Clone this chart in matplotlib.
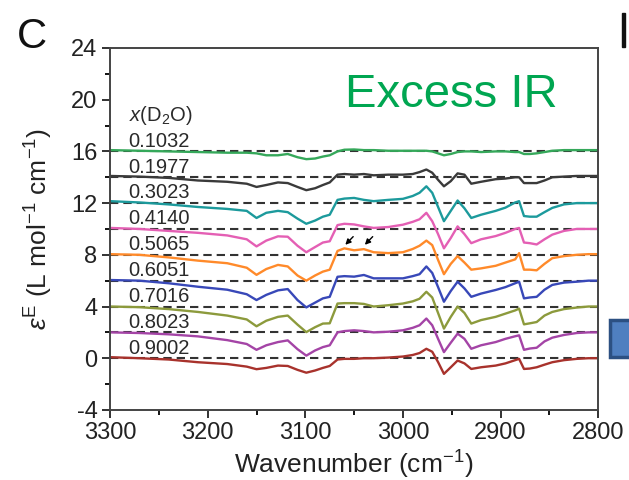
import numpy as np
import matplotlib
matplotlib.use("Agg")
import matplotlib.pyplot as plt
from matplotlib.ticker import MultipleLocator
from matplotlib.patches import Rectangle

plt.rcParams['font.family'] = ['Liberation Sans', 'DejaVu Sans']
plt.rcParams['mathtext.fontset'] = 'custom'
plt.rcParams['mathtext.rm'] = 'Liberation Sans'
plt.rcParams['mathtext.it'] = 'Liberation Sans:italic'
plt.rcParams['axes.unicode_minus'] = False

# wavenumber grid (cm^-1)
wn = [3300, 3270, 3240, 3210, 3180, 3160, 3150, 3140, 3128, 3118, 3108, 3099,
      3090, 3082, 3075, 3067, 3060, 3050, 3040, 3030, 3015, 3000, 2990, 2983,
      2976, 2970, 2964, 2958, 2951, 2944, 2937, 2930, 2920, 2905, 2895, 2885,
      2881, 2876, 2870, 2863, 2855, 2847, 2835, 2822, 2810, 2800]

# x(D2O) compositions, stacking offsets and colours
fractions = ["0.1032", "0.1977", "0.3023", "0.4140", "0.5065",
             "0.6051", "0.7016", "0.8023", "0.9002"]
offsets = [16, 14, 12, 10, 8, 6, 4, 2, 0]
colors = ["#35a85a", "#3a3a3a", "#1c9a9c", "#e45fb4", "#ff8a2a",
          "#3848b8", "#8c9a3c", "#a444a6", "#a8322c"]

# excess epsilon relative to each baseline
d_1032 = [0.1, 0.05, 0.0, -0.05, -0.1, -0.1, -0.15, -0.3, -0.3, -0.2, -0.45, -0.6,
          -0.55, -0.4, -0.3, 0.0, 0.13, 0.15, 0.1, 0.1, 0.05, 0.05, 0.05, 0.05,
          0.05, 0.0, -0.15, -0.3, -0.2, -0.05, 0.0, 0.0, -0.05, 0.0, 0.0, -0.05,
          -0.05, -0.2, -0.2, -0.15, -0.05, 0.05, 0.1, 0.1, 0.1, 0.1]
d_1977 = [0.1, 0.05, -0.05, -0.25, -0.35, -0.5, -0.75, -0.6, -0.4, -0.45, -0.75, -1.0,
          -0.85, -0.6, -0.4, 0.2, 0.25, 0.2, 0.25, 0.15, 0.2, 0.2, 0.25, 0.4,
          0.6, 0.35, -0.2, -0.7, -0.3, 0.3, 0.2, -0.5, -0.35, -0.15, -0.1, 0.0,
          0.0, -0.45, -0.45, -0.45, -0.25, 0.0, 0.05, 0.1, 0.1, 0.1]
d_3023 = [0.15, 0.05, -0.1, -0.3, -0.45, -0.6, -1.15, -0.75, -0.6, -0.7, -1.2, -1.6,
          -1.35, -1.05, -0.9, 0.25, 0.35, 0.4, 0.25, 0.15, 0.25, 0.33, 0.55, 0.8,
          1.3, 0.8, -0.3, -1.4, -0.6, 0.2, -0.4, -1.15, -0.9, -0.6, -0.35, 0.05,
          0.15, -1.0, -1.05, -1.05, -0.7, -0.37, -0.1, 0.0, 0.0, 0.0]
d_4140 = [0.08, 0.0, -0.15, -0.3, -0.5, -0.8, -1.35, -0.9, -0.57, -0.6, -1.3, -1.8,
          -1.4, -1.05, -0.95, 0.3, 0.4, 0.35, 0.2, 0.08, 0.15, 0.33, 0.55, 0.75,
          1.25, 0.6, -0.4, -1.5, -0.7, 0.2, -0.4, -1.1, -0.8, -0.55, -0.3, 0.0,
          0.08, -1.05, -1.1, -1.2, -0.8, -0.44, -0.15, 0.0, 0.0, 0.0]
d_5065 = [0.05, 0.0, -0.2, -0.45, -0.65, -1.0, -1.55, -1.1, -0.78, -0.9, -1.6, -2.0,
          -1.6, -1.3, -1.15, 0.3, 0.5, 0.35, 0.44, 0.2, 0.13, 0.2, 0.45, 0.7,
          1.1, 0.75, -0.4, -1.5, -0.7, -0.1, -0.6, -1.15, -1.05, -0.85, -0.6, -0.35,
          0.13, -1.15, -1.15, -1.2, -0.7, -0.26, -0.1, 0.0, 0.05, 0.05]
d_6051 = [0.05, 0.0, -0.2, -0.47, -0.7, -1.05, -1.5, -1.1, -0.75, -0.65, -1.5, -2.07,
          -1.7, -1.37, -1.25, 0.3, 0.35, 0.31, 0.44, 0.18, 0.18, 0.18, 0.35, 0.5,
          1.1, 0.6, -0.5, -1.63, -0.8, -0.08, -0.6, -1.25, -1.0, -0.72, -0.5, -0.2,
          -0.08, -1.37, -1.3, -1.25, -0.7, -0.33, -0.15, -0.08, 0.0, 0.0]
d_7016 = [0.0, -0.05, -0.2, -0.42, -0.7, -1.0, -1.53, -1.1, -0.8, -0.7, -1.4, -1.98,
          -1.6, -1.32, -1.3, 0.23, 0.26, 0.26, 0.2, 0.0, 0.1, 0.23, 0.4, 0.6,
          1.14, 0.7, -0.5, -1.71, -0.8, 0.0, -0.5, -1.32, -1.05, -0.8, -0.55, -0.3,
          -0.16, -1.38, -1.3, -1.2, -0.7, -0.42, -0.2, -0.08, 0.0, 0.0]
d_8023 = [0.0, -0.05, -0.15, -0.31, -0.6, -0.9, -1.35, -1.0, -0.75, -0.62, -1.3, -1.8,
          -1.4, -1.14, -1.0, 0.0, 0.1, 0.16, 0.1, 0.0, 0.05, 0.16, 0.35, 0.55,
          1.07, 0.55, -0.5, -1.53, -0.8, -0.1, -0.5, -1.27, -1.0, -0.75, -0.5, -0.3,
          -0.23, -1.35, -1.25, -1.19, -0.7, -0.41, -0.2, -0.05, 0.0, 0.0]
d_9002 = [0.08, 0.0, -0.1, -0.31, -0.45, -0.65, -0.85, -0.75, -0.57, -0.6, -0.9, -1.12,
          -0.95, -0.75, -0.6, -0.1, -0.05, -0.05, 0.0, 0.0, 0.05, 0.13, 0.25, 0.4,
          0.73, 0.5, -0.3, -1.21, -0.7, -0.18, -0.4, -0.83, -0.7, -0.57, -0.4, -0.15,
          -0.05, -0.83, -0.8, -0.7, -0.5, -0.31, -0.15, -0.05, 0.0, 0.0]
deltas = [d_1032, d_1977, d_3023, d_4140, d_5065, d_6051, d_7016, d_8023, d_9002]

fig = plt.figure(figsize=(6.29, 4.8), dpi=100)
ax = fig.add_axes([0.175, 0.146, 0.776, 0.754])

for frac, off, col, d in zip(fractions, offsets, colors, deltas):
    ax.axhline(off, color="#333333", lw=1.5, ls=(0, (4, 2.4)), zorder=1)
    ax.plot(wn, off + np.array(d), color=col, lw=1.7, zorder=2)
    ax.text(3281, off + 0.05, frac, fontsize=14.5, color="#2a2a2a",
            ha="left", va="bottom", zorder=3)

ax.text(3281, 17.9, r"$x$(D$_2$O)", fontsize=14.5, color="#2a2a2a",
        ha="left", va="bottom")

# arrows near the 0.5065 curve
for x0 in (3049, 3029):
    ax.annotate("", xy=(x0 + 12, 8.62), xytext=(x0, 9.56),
                arrowprops=dict(arrowstyle="-|>", color="black", lw=1.0,
                                mutation_scale=8))

ax.text(0.70, 0.837, "Excess IR", transform=ax.transAxes, fontsize=34,
        color="#00a651", ha="center", va="baseline")

ax.set_xlim(3300, 2800)
ax.set_ylim(-4, 24)
ax.xaxis.set_major_locator(MultipleLocator(100))
ax.xaxis.set_minor_locator(MultipleLocator(50))
ax.yaxis.set_major_locator(MultipleLocator(4))
ax.yaxis.set_minor_locator(MultipleLocator(2))
ax.tick_params(which="major", direction="out", length=6, width=1.3,
               labelsize=17, colors="#222222", pad=3)
ax.tick_params(which="minor", direction="out", length=3.5, width=1.3)
for s in ax.spines.values():
    s.set_linewidth(1.4)
    s.set_color("#444444")

ax.set_xlabel("Wavenumber (cm$^{-1}$)", fontsize=19, color="#222222", labelpad=3)
ax.set_ylabel(r"$\varepsilon^{\mathrm{E}}$ (L mol$^{-1}$ cm$^{-1}$)",
              fontsize=19, color="#222222", labelpad=12)

fig.text(0.027, 0.965, "C", fontsize=30, ha="left", va="top", color="#111111")
# cropped edge of the neighbouring panel
fig.add_artist(Rectangle((622 / 629, 1 - 47 / 480), 3 / 629, 34 / 480,
                         transform=fig.transFigure, color="#111111"))
fig.add_artist(Rectangle((610 / 629, 1 - 357 / 480), 25 / 629, 37 / 480,
                         transform=fig.transFigure, facecolor="#4f7fc0",
                         edgecolor="#2c5082", lw=2.5, clip_on=False))

fig.savefig("out.png", dpi=100)
